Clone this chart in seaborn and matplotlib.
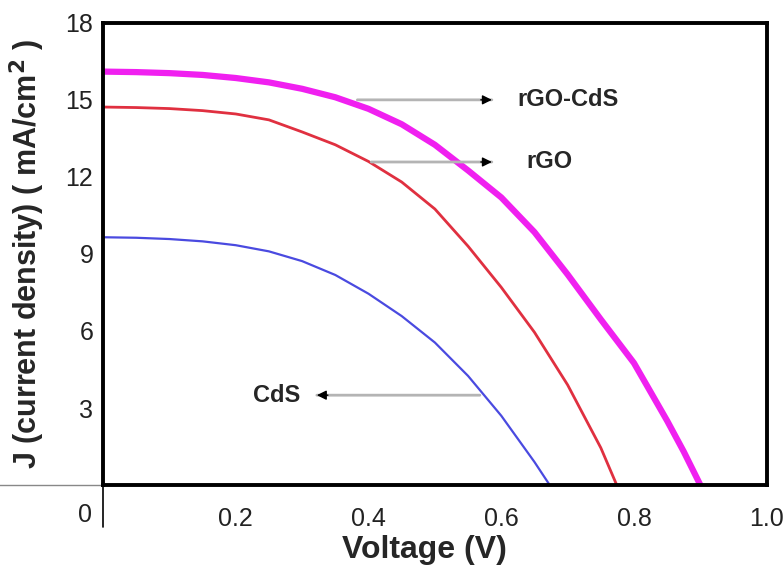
import pandas as pd
import matplotlib
matplotlib.use("Agg")
import matplotlib.pyplot as plt
import seaborn as sns

# J-V readings (V, mA/cm2)
v_hybrid = [0, 0.05, 0.10, 0.15, 0.20, 0.25, 0.30, 0.35, 0.40, 0.45, 0.50, 0.55,
            0.60, 0.65, 0.70, 0.75, 0.80, 0.85, 0.875, 0.90]
j_hybrid = [16.1, 16.08, 16.04, 15.97, 15.85, 15.68, 15.43, 15.1, 14.65, 14.05, 13.25, 12.25,
            11.2, 9.85, 8.2, 6.45, 4.75, 2.5, 1.3, 0]

v_rgo = [0, 0.05, 0.10, 0.15, 0.20, 0.25, 0.30, 0.35, 0.40, 0.45, 0.50, 0.55,
         0.60, 0.65, 0.70, 0.75, 0.774]
j_rgo = [14.72, 14.70, 14.66, 14.58, 14.45, 14.22, 13.75, 13.25, 12.6, 11.8, 10.75, 9.3,
         7.7, 5.95, 3.9, 1.45, 0]

v_cds = [0, 0.05, 0.10, 0.15, 0.20, 0.25, 0.30, 0.35, 0.40, 0.45, 0.50, 0.55,
         0.60, 0.65, 0.673]
j_cds = [9.65, 9.63, 9.58, 9.49, 9.34, 9.1, 8.72, 8.18, 7.45, 6.58, 5.55, 4.25,
         2.7, 0.9, 0]

series_names = ["rGO-CdS", "rGO", "CdS"]
series_colors = {"rGO-CdS": "#f020f0", "rGO": "#e03040", "CdS": "#4a4ae0"}
series_widths = {"rGO-CdS": 4.5, "rGO": 2.0, "CdS": 1.6}

x_ticks = [0.2, 0.4, 0.6, 0.8, 1.0]
x_tick_labels = ["0.2", "0.4", "0.6", "0.8", "1.0"]
y_ticks = [3, 6, 9, 12, 15, 18]


def build_frame():
    parts = []
    for name, v, j in [("rGO-CdS", v_hybrid, j_hybrid), ("rGO", v_rgo, j_rgo), ("CdS", v_cds, j_cds)]:
        parts.append(pd.DataFrame({"V": v, "J": j, "sample": name}))
    return pd.concat(parts, ignore_index=True)


def arrow(ax, tail_x, head_x, y):
    ax.annotate("", xy=(head_x, y), xytext=(tail_x, y),
                arrowprops=dict(arrowstyle="-", color="#b4b4b4", lw=2))
    step = 0.025 if head_x > tail_x else -0.025
    ax.annotate("", xy=(head_x, y), xytext=(head_x - step, y),
                arrowprops=dict(arrowstyle="-|>", color="black", lw=1, mutation_scale=14))


def main():
    sns.set_style("white")
    plt.rcParams["font.family"] = ["Liberation Sans", "DejaVu Sans"]
    df = build_frame()

    fig = plt.figure(figsize=(7.84, 5.70), dpi=100)
    ax = fig.add_axes([0.1314, 0.149, 0.8466, 0.811])

    for name in series_names:
        sub = df[df["sample"] == name]
        sns.lineplot(data=sub, x="V", y="J", ax=ax, color=series_colors[name],
                     lw=series_widths[name], sort=False, estimator=None)

    ax.set_xlim(0, 1.0)
    ax.set_ylim(0, 18)
    ax.set_xticks(x_ticks)
    ax.set_xticklabels(x_tick_labels)
    ax.set_yticks(y_ticks)
    ax.tick_params(axis="both", direction="out", length=5, width=1.5, color="black",
                   labelsize=18, labelcolor="#222222")
    ax.tick_params(axis="x", pad=11)
    ax.tick_params(axis="y", pad=2)
    for sp in ax.spines.values():
        sp.set_color("black")
        sp.set_linewidth(2.8)

    ax.set_xlabel("Voltage (V)", fontsize=23, fontweight="bold")
    ax.xaxis.set_label_coords(0.485, -0.108)
    ax.set_ylabel(r"J (current density) ( mA/cm$^\mathbf{2}$ )", fontsize=22,
                  fontweight="bold")
    ax.yaxis.set_label_coords(-0.085, 0.5)

    # extended zero lines outside the frame
    ax.axhline(0, xmin=-0.16, xmax=0, clip_on=False, color="#888888", lw=1)
    ax.axvline(0, ymin=-0.09, ymax=0, clip_on=False, color="black", lw=1.2)
    ax.text(-0.027, -0.065, "0", transform=ax.transAxes, ha="center", va="center",
            fontsize=18, color="#222222")

    arrow(ax, 0.379, 0.59, 15.0)
    ax.text(0.624, 15.0, "rGO-CdS", fontsize=17, fontweight="bold", va="center", ha="left")
    arrow(ax, 0.40, 0.59, 12.58)
    ax.text(0.638, 12.58, "rGO", fontsize=17, fontweight="bold", va="center", ha="left")
    arrow(ax, 0.572, 0.318, 3.5)
    ax.text(0.297, 3.5, "CdS", fontsize=17, fontweight="bold", va="center", ha="right")

    fig.savefig("out.png", dpi=100)
    plt.close(fig)


if __name__ == "__main__":
    main()
